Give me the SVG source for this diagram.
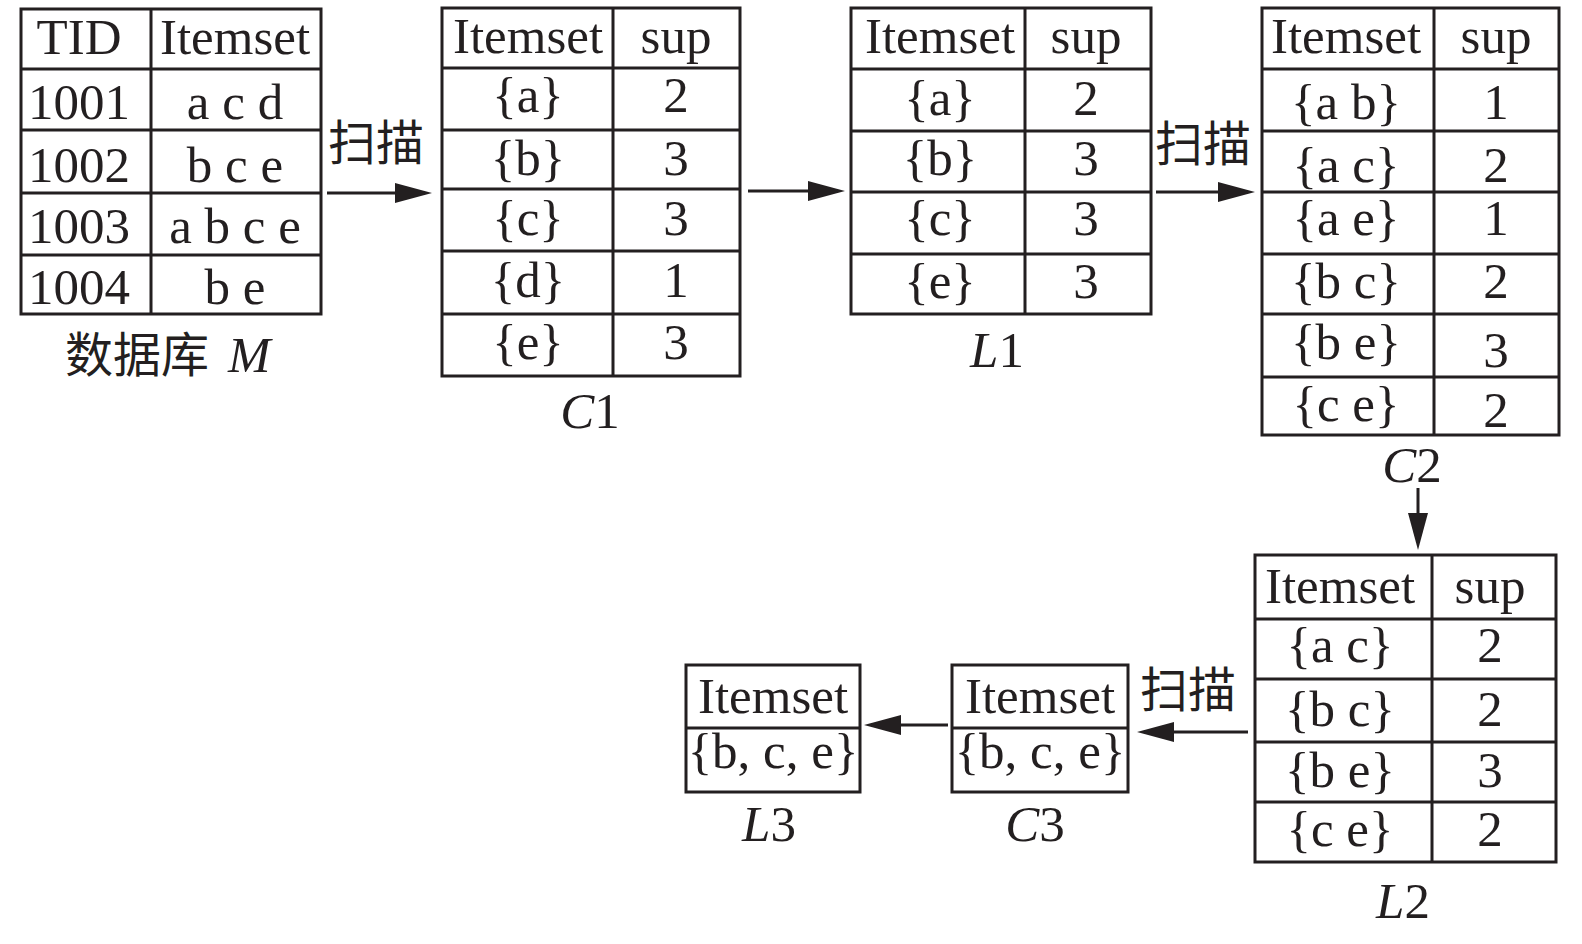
<svg xmlns="http://www.w3.org/2000/svg" width="1582" height="944" viewBox="0 0 1582 944">
<style>
.cell{fill:none;stroke:#231f20;stroke-width:3}
.ln{stroke:#231f20;stroke-width:3;fill:none}
text{font-family:"Liberation Serif","Noto Sans CJK SC",serif;font-size:51px;fill:#231f20;text-anchor:middle}
.cjk{font-family:"Noto Sans CJK SC","Liberation Serif",sans-serif;font-size:48px;text-anchor:start}
.it{font-style:italic}
</style>
<defs>
<marker id="ah" viewBox="0 0 37 20" refX="30" refY="10" markerWidth="37" markerHeight="20" markerUnits="userSpaceOnUse" orient="auto">
<path d="M0,0 L37,10 L0,20 z" fill="#231f20"/>
</marker>
</defs>
<rect width="1582" height="944" fill="#ffffff"/>

<g id="tableM">
<rect class="cell" x="21" y="9" width="300" height="305"/>
<path class="ln" d="M151,9V314M21,69H321M21,130H321M21,193H321M21,255H321"/>
<text x="79" y="54">TID</text><text x="235" y="54">Itemset</text>
<text x="79" y="119">1001</text><text x="235" y="119">a c d</text>
<text x="79" y="182">1002</text><text x="235" y="182">b c e</text>
<text x="79" y="243">1003</text><text x="235" y="243">a b c e</text>
<text x="79" y="304">1004</text><text x="235" y="304">b e</text>
<text class="cjk" x="65" y="372">数据库<tspan class="it" x="228" font-family="Liberation Serif" font-size="51">M</tspan></text>
</g>

<g id="tableC1">
<rect class="cell" x="442" y="8" width="298" height="368"/>
<path class="ln" d="M613,8V376M442,68H740M442,130H740M442,189H740M442,251H740M442,314H740"/>
<text x="528" y="53">Itemset</text><text x="676" y="53">sup</text>
<text x="528" y="112">{a}</text><text x="676" y="112">2</text>
<text x="528" y="175">{b}</text><text x="676" y="175">3</text>
<text x="528" y="235">{c}</text><text x="676" y="235">3</text>
<text x="528" y="297">{d}</text><text x="676" y="297">1</text>
<text x="528" y="359">{e}</text><text x="676" y="359">3</text>
<text x="590" y="428"><tspan class="it">C</tspan>1</text>
</g>

<g id="tableL1">
<rect class="cell" x="851" y="8" width="300" height="306"/>
<path class="ln" d="M1025,8V314M851,69H1151M851,131H1151M851,192H1151M851,254H1151"/>
<text x="940" y="53">Itemset</text><text x="1086" y="53">sup</text>
<text x="940" y="115">{a}</text><text x="1086" y="115">2</text>
<text x="940" y="175">{b}</text><text x="1086" y="175">3</text>
<text x="940" y="235">{c}</text><text x="1086" y="235">3</text>
<text x="940" y="298">{e}</text><text x="1086" y="298">3</text>
<text x="997" y="367"><tspan class="it">L</tspan>1</text>
</g>

<g id="tableC2">
<rect class="cell" x="1262" y="8" width="297" height="427"/>
<path class="ln" d="M1434,8V435M1262,69H1559M1262,131H1559M1262,192H1559M1262,254H1559M1262,314H1559M1262,377H1559"/>
<text x="1346" y="53">Itemset</text><text x="1496" y="53">sup</text>
<text x="1346" y="119">{a b}</text><text x="1496" y="119">1</text>
<text x="1346" y="182">{a c}</text><text x="1496" y="182">2</text>
<text x="1346" y="235">{a e}</text><text x="1496" y="235">1</text>
<text x="1346" y="298">{b c}</text><text x="1496" y="298">2</text>
<text x="1346" y="359">{b e}</text><text x="1496" y="367">3</text>
<text x="1346" y="421">{c e}</text><text x="1496" y="427">2</text>
<text x="1412" y="482"><tspan class="it">C</tspan>2</text>
</g>

<g id="tableL2">
<rect class="cell" x="1255" y="555" width="301" height="307"/>
<path class="ln" d="M1432,555V862M1255,619H1556M1255,679H1556M1255,742H1556M1255,802H1556"/>
<text x="1340" y="603">Itemset</text><text x="1490" y="603">sup</text>
<text x="1340" y="662">{a c}</text><text x="1490" y="662">2</text>
<text x="1340" y="726">{b c}</text><text x="1490" y="726">2</text>
<text x="1340" y="787">{b e}</text><text x="1490" y="787">3</text>
<text x="1340" y="846">{c e}</text><text x="1490" y="846">2</text>
<text x="1403" y="918"><tspan class="it">L</tspan>2</text>
</g>

<g id="tableC3">
<rect class="cell" x="952" y="665" width="176" height="127"/>
<path class="ln" d="M952,728H1128"/>
<text x="1040" y="713">Itemset</text>
<text x="1040" y="768">{b, c, e}</text>
<text x="1035" y="841"><tspan class="it">C</tspan>3</text>
</g>

<g id="tableL3">
<rect class="cell" x="686" y="665" width="174" height="127"/>
<path class="ln" d="M686,728H860"/>
<text x="773" y="713">Itemset</text>
<text x="773" y="768">{b, c, e}</text>
<text x="769" y="841"><tspan class="it">L</tspan>3</text>
</g>

<g id="connectors">
<path class="ln" d="M327,193H425" marker-end="url(#ah)"/>
<path class="ln" d="M748,191H838" marker-end="url(#ah)"/>
<path class="ln" d="M1156,192H1248" marker-end="url(#ah)"/>
<path class="ln" d="M1418,488V543" marker-end="url(#ah)"/>
<path class="ln" d="M1248,732H1144" marker-end="url(#ah)"/>
<path class="ln" d="M948,725H871" marker-end="url(#ah)"/>
<text class="cjk" x="328" y="160">扫描</text>
<text class="cjk" x="1155" y="161">扫描</text>
<text class="cjk" x="1140" y="707">扫描</text>
</g>
</svg>
